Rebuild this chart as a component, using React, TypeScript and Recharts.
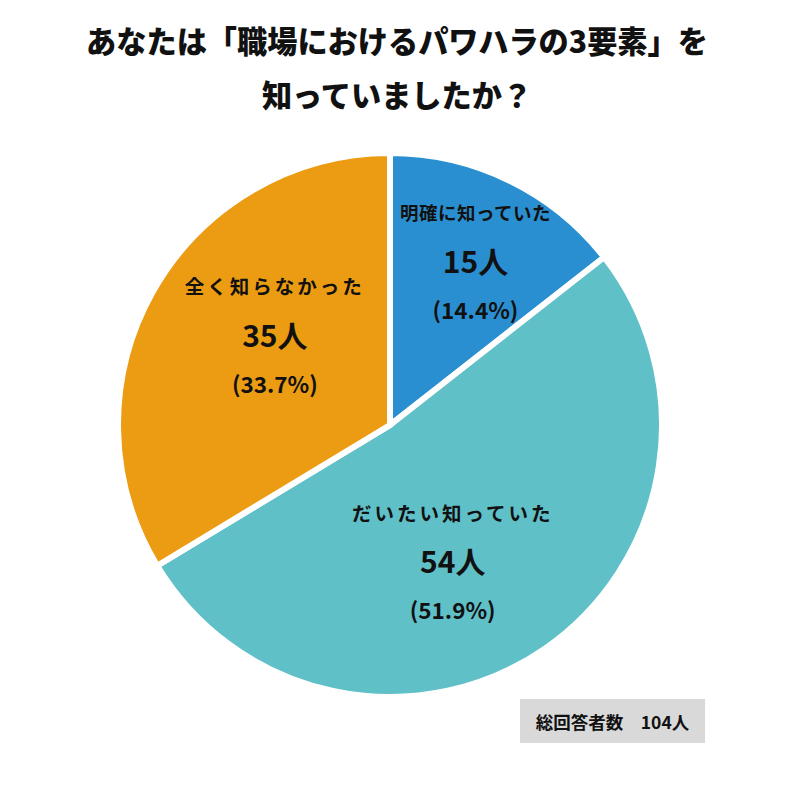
import { PieChart, Pie, Cell } from "recharts";

const categories = ["明確に知っていた", "だいたい知っていた", "全く知らなかった"];
const counts = [15, 54, 35];
const percents = ["14.4%", "51.9%", "33.7%"];
const colors = ["#2A8FD0", "#60C0C8", "#EB9C13"];
const totalLabel = "総回答者数　104人";
const titleLines = ["あなたは「職場におけるパワハラの3要素」を", "知っていましたか？"];

// label tweaks per slice (nudge from the default mid-angle spot)
const labelNudge = [
  { dx: 14, dy: -18, size: 18.5, spacing: 0.5 },
  { dx: -30, dy: 1, size: 19.5, spacing: 3 },
  { dx: 27, dy: -11, size: 19.5, spacing: 3 },
];

const FONT = '"Noto Sans CJK JP", "Noto Sans", sans-serif';
const RAD = Math.PI / 180;

const data = categories.map((name, i) => ({ name, value: counts[i] }));

function renderLabel(props: any) {
  const { cx, cy, midAngle, outerRadius, index } = props;
  const n = labelNudge[index];
  const r = outerRadius * 0.6;
  const x = cx + r * Math.cos(-midAngle * RAD) + n.dx;
  const y = cy + r * Math.sin(-midAngle * RAD) + n.dy;
  return (
    <g key={`lbl-${index}`} fontFamily={FONT} fontWeight={700} fill="#111" textAnchor="middle">
      <text x={x} y={y - 48} fontSize={n.size} letterSpacing={n.spacing} dominantBaseline="central">
        {categories[index]}
      </text>
      <text x={x} y={y} fontSize={30} dominantBaseline="central">
        {counts[index]}人
      </text>
      <text x={x} y={y + 49} fontSize={22.5} dominantBaseline="central">
        ({percents[index]})
      </text>
    </g>
  );
}

export default function App() {
  return (
    <div style={{ position: "absolute", left: 0, top: 0, width: 800, height: 795, background: "#fff", fontFamily: FONT }}>
      {titleLines.map((t, i) => (
        <div
          key={i}
          style={{
            position: "absolute",
            left: 0,
            width: 794,
            top: 20 + i * 54,
            textAlign: "center",
            fontSize: 30.2,
            fontWeight: 900,
            lineHeight: "40px",
            color: "#111",
          }}
        >
          {t}
        </div>
      ))}
      <PieChart width={800} height={795} style={{ position: "absolute", left: 0, top: 0 }}>
        <Pie
          data={data}
          dataKey="value"
          cx={385}
          cy={420}
          outerRadius={272}
          startAngle={90}
          endAngle={-270}
          stroke="#fff"
          strokeWidth={6}
          labelLine={false}
          label={renderLabel}
          isAnimationActive={false}
        >
          {data.map((_, i) => (
            <Cell key={i} fill={colors[i]} />
          ))}
        </Pie>
      </PieChart>
      <div
        style={{
          position: "absolute",
          left: 520,
          top: 699,
          width: 185,
          height: 44,
          background: "#D9D9D9",
          display: "flex",
          alignItems: "center",
          justifyContent: "center",
          fontSize: 17.5,
          fontWeight: 700,
          color: "#111",
        }}
      >
        {totalLabel}
      </div>
    </div>
  );
}
